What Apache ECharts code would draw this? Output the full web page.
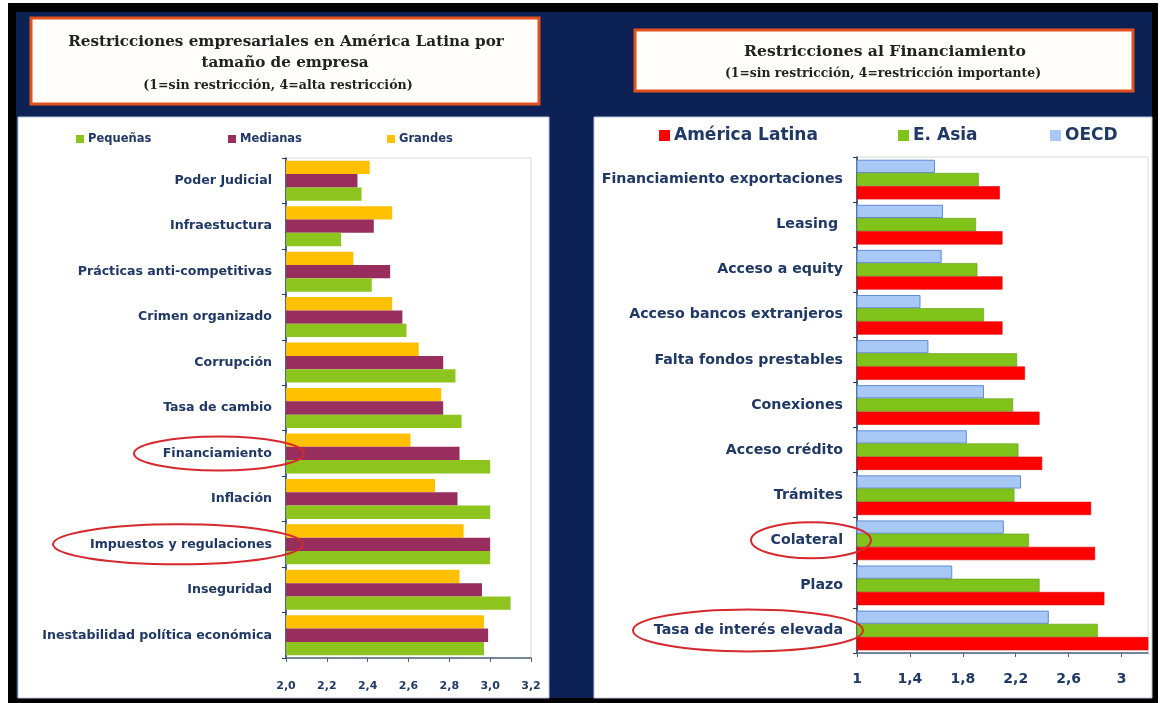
<!DOCTYPE html>
<html><head><meta charset="utf-8">
<script src="https://cdn.jsdelivr.net/npm/echarts@6/dist/echarts.min.js"></script>
<style>html,body{margin:0;padding:0;background:#fff;}#c{width:1162px;height:703px;}</style>
</head><body><div id="c"></div>
<script>
// ---- Left chart data ----
const leftCategories = ['Poder Judicial','Infraestuctura','Prácticas anti-competitivas','Crimen organizado','Corrupción','Tasa de cambio','Financiamiento','Inflación','Impuestos y regulaciones','Inseguridad','Inestabilidad política económica'];
const pequenas = [2.37, 2.27, 2.42, 2.59, 2.83, 2.86, 3.00, 3.00, 3.00, 3.10, 2.97];
const medianas = [2.35, 2.43, 2.51, 2.57, 2.77, 2.77, 2.85, 2.84, 3.00, 2.96, 2.99];
const grandes  = [2.41, 2.52, 2.33, 2.52, 2.65, 2.76, 2.61, 2.73, 2.87, 2.85, 2.97];
const leftTickValues = [2.0, 2.2, 2.4, 2.6, 2.8, 3.0, 3.2];
const leftTickLabels = ['2,0','2,2','2,4','2,6','2,8','3,0','3,2'];

// ---- Right chart data ----
const rightCategories = ['Financiamiento exportaciones','Leasing ','Acceso a equity','Acceso bancos extranjeros','Falta fondos prestables','Conexiones','Acceso crédito','Trámites','Colateral','Plazo','Tasa de interés elevada'];
const americaLatina = [2.08, 2.10, 2.10, 2.10, 2.27, 2.38, 2.40, 2.77, 2.80, 2.87, 3.25];
const eAsia         = [1.92, 1.90, 1.91, 1.96, 2.21, 2.18, 2.22, 2.19, 2.30, 2.38, 2.82];
const oecd          = [1.59, 1.65, 1.64, 1.48, 1.54, 1.96, 1.83, 2.24, 2.11, 1.72, 2.45];
const rightTickValues = [1, 1.4, 1.8, 2.2, 2.6, 3];
const rightTickLabels = ['1','1,4','1,8','2,2','2,6','3'];

const NAVY_TEXT = '#1f3864';
function labelFor(values, labels) {
  return function (v) {
    const i = values.findIndex(t => Math.abs(t - v) < 1e-6);
    return i >= 0 ? labels[i] : '';
  };
}

const chart = echarts.init(document.getElementById('c'), null, {renderer: 'canvas'});

function legendItem(name, left, top, size, fontSize, markerColor) {
  return {
    data: [{name: name, itemStyle: {color: markerColor, borderWidth: 0}}],
    left: left, top: top, icon: 'rect', padding: 0, itemGap: 0, selectedMode: false,
    itemWidth: size, itemHeight: size,
    textStyle: {fontFamily: 'DejaVu Sans', fontWeight: 'bold', fontSize: fontSize, color: NAVY_TEXT, padding: [0,0,0,-1]}
  };
}

const option = {
  animation: false,
  backgroundColor: '#ffffff',
  graphic: {elements: [
    {id: 'blk', type: 'rect', z: -30, silent: true, shape: {x: 8, y: 3, width: 1150, height: 700}, style: {fill: '#000'}},
    {id: 'navy', type: 'rect', z: -29, silent: true, shape: {x: 16, y: 12, width: 1136, height: 686}, style: {fill: '#0c2255'}},
    {id: 'lp', type: 'rect', z: -28, silent: true, shape: {x: 18, y: 117, width: 531, height: 581}, style: {fill: '#fff', stroke: '#b9c3d6', lineWidth: 1}},
    {id: 'rp', type: 'rect', z: -28, silent: true, shape: {x: 594, y: 117, width: 558, height: 581}, style: {fill: '#fff', stroke: '#b9c3d6', lineWidth: 1}},
    {id: 'lt', type: 'rect', z: -27, silent: true, shape: {x: 31, y: 18, width: 508, height: 86}, style: {fill: '#fffefa', stroke: '#e2501e', lineWidth: 3}},
    {id: 'rt', type: 'rect', z: -27, silent: true, shape: {x: 635, y: 30, width: 498, height: 61}, style: {fill: '#fffefa', stroke: '#e2501e', lineWidth: 3}},
    {id: 'lt1', type: 'text', z: 5, silent: true, x: 286, y: 42, style: {text: 'Restricciones empresariales en América Latina por', align: 'center', verticalAlign: 'middle', fontFamily: 'DejaVu Serif', fontWeight: 'bold', fontSize: 15.2, fill: '#222'}},
    {id: 'lt2', type: 'text', z: 5, silent: true, x: 285, y: 63, style: {text: 'tamaño de empresa', align: 'center', verticalAlign: 'middle', fontFamily: 'DejaVu Serif', fontWeight: 'bold', fontSize: 15.2, fill: '#222'}},
    {id: 'lt3', type: 'text', z: 5, silent: true, x: 278, y: 86, style: {text: '(1=sin restricción, 4=alta restricción)', align: 'center', verticalAlign: 'middle', fontFamily: 'DejaVu Serif', fontWeight: 'bold', fontSize: 12.6, fill: '#222'}},
    {id: 'rt1', type: 'text', z: 5, silent: true, x: 885, y: 52, style: {text: 'Restricciones al Financiamiento', align: 'center', verticalAlign: 'middle', fontFamily: 'DejaVu Serif', fontWeight: 'bold', fontSize: 15.6, fill: '#222'}},
    {id: 'rt2', type: 'text', z: 5, silent: true, x: 883, y: 74, style: {text: '(1=sin restricción, 4=restricción importante)', align: 'center', verticalAlign: 'middle', fontFamily: 'DejaVu Serif', fontWeight: 'bold', fontSize: 12.4, fill: '#222'}}
  ]},
  legend: [
    legendItem('Pequeñas', 76, 133, 8, 11.5, '#8dc41e'),
    legendItem('Medianas', 228, 133, 8, 11.5, '#982e5e'),
    legendItem('Grandes', 387, 133, 8, 11.5, '#ffc000'),
    legendItem('América Latina', 659, 127, 11, 17, '#ff0000'),
    legendItem('E. Asia', 898, 127, 11, 17, '#80c31b'),
    legendItem('OECD', 1050, 127, 11, 17, '#a8c9f6')
  ],
  grid: [
    {left: 286, right: 1162 - 531, top: 158, bottom: 703 - 658, show: true, borderColor: '#d5d9e0', borderWidth: 1, backgroundColor: 'transparent', containLabel: false},
    {left: 857, right: 1162 - 1148, top: 157, bottom: 703 - 653, show: true, borderColor: '#d5d9e0', borderWidth: 1, backgroundColor: 'transparent', containLabel: false}
  ],
  xAxis: [
    {type: 'value', gridIndex: 0, min: 2, max: 3.2, interval: 0.2,
     axisLine: {show: true, lineStyle: {color: '#50607e', width: 1.5}},
     axisTick: {show: true, length: 4, lineStyle: {color: '#50607e'}},
     splitLine: {show: false},
     axisLabel: {margin: 23, color: NAVY_TEXT, fontFamily: 'DejaVu Sans', fontWeight: 'bold', fontSize: 11, formatter: labelFor(leftTickValues, leftTickLabels)}},
    {type: 'value', gridIndex: 1, min: 1, max: 3.2,
     axisLine: {show: true, lineStyle: {color: '#50607e', width: 1.5}},
     axisTick: {show: true, length: 4, customValues: rightTickValues, lineStyle: {color: '#50607e'}},
     splitLine: {show: false},
     axisLabel: {margin: 19, color: NAVY_TEXT, fontFamily: 'DejaVu Sans', fontWeight: 'bold', fontSize: 14, customValues: rightTickValues, formatter: labelFor(rightTickValues, rightTickLabels)}}
  ],
  yAxis: [
    {type: 'category', gridIndex: 0, data: leftCategories, inverse: true,
     axisLine: {show: true, lineStyle: {color: '#1f3864', width: 1.5}},
     axisTick: {show: true, length: 4, lineStyle: {color: '#1f3864'}},
     axisLabel: {margin: 14, color: NAVY_TEXT, fontFamily: 'DejaVu Sans', fontWeight: 'bold', fontSize: 12.6}},
    {type: 'category', gridIndex: 1, data: rightCategories, inverse: true,
     axisLine: {show: true, lineStyle: {color: '#1f3864', width: 1.5}},
     axisTick: {show: true, length: 4, lineStyle: {color: '#1f3864'}},
     axisLabel: {margin: 14, color: NAVY_TEXT, fontFamily: 'DejaVu Sans', fontWeight: 'bold', fontSize: 14.2}}
  ],
  series: [
    {name: 'Grandes', type: 'bar', xAxisIndex: 0, yAxisIndex: 0, data: grandes, barGap: '0%', barCategoryGap: '12%', itemStyle: {color: '#ffc000'}},
    {name: 'Medianas', type: 'bar', xAxisIndex: 0, yAxisIndex: 0, data: medianas, barGap: '0%', barCategoryGap: '12%', itemStyle: {color: '#982e5e'}},
    {name: 'Pequeñas', type: 'bar', xAxisIndex: 0, yAxisIndex: 0, data: pequenas, barGap: '0%', barCategoryGap: '12%', itemStyle: {color: '#8dc41e'}},
    {name: 'OECD', type: 'bar', xAxisIndex: 1, yAxisIndex: 1, data: oecd, barGap: '0%', barCategoryGap: '12%', itemStyle: {color: '#a8c9f6', borderColor: '#5f8ad6', borderWidth: 1}},
    {name: 'E. Asia', type: 'bar', xAxisIndex: 1, yAxisIndex: 1, data: eAsia, barGap: '0%', barCategoryGap: '12%', itemStyle: {color: '#80c31b', borderColor: '#5e9a10', borderWidth: 0.6}},
    {name: 'América Latina', type: 'bar', xAxisIndex: 1, yAxisIndex: 1, data: americaLatina, barGap: '0%', barCategoryGap: '12%', itemStyle: {color: '#ff0000', borderColor: '#d40000', borderWidth: 0.6}}
  ]
};
chart.setOption(option);

// Red annotation ellipses, centred on their category rows
function rowY(axisIndex, name) { return chart.convertToPixel({yAxisIndex: axisIndex}, name); }
const ellipseStyle = {fill: 'none', stroke: '#d42a2e', lineWidth: 2};
chart.setOption({graphic: {elements: [
  {id: 'e1', type: 'ellipse', z: 50, silent: true, shape: {cx: 219, cy: rowY(0, 'Financiamiento'), rx: 85, ry: 17}, style: ellipseStyle},
  {id: 'e2', type: 'ellipse', z: 50, silent: true, shape: {cx: 178, cy: rowY(0, 'Impuestos y regulaciones'), rx: 125, ry: 20}, style: ellipseStyle},
  {id: 'e3', type: 'ellipse', z: 50, silent: true, shape: {cx: 811, cy: rowY(1, 'Colateral'), rx: 60, ry: 18}, style: ellipseStyle},
  {id: 'e4', type: 'ellipse', z: 50, silent: true, shape: {cx: 748, cy: rowY(1, 'Tasa de interés elevada'), rx: 115, ry: 21}, style: ellipseStyle}
]}});
</script>
</body></html>
